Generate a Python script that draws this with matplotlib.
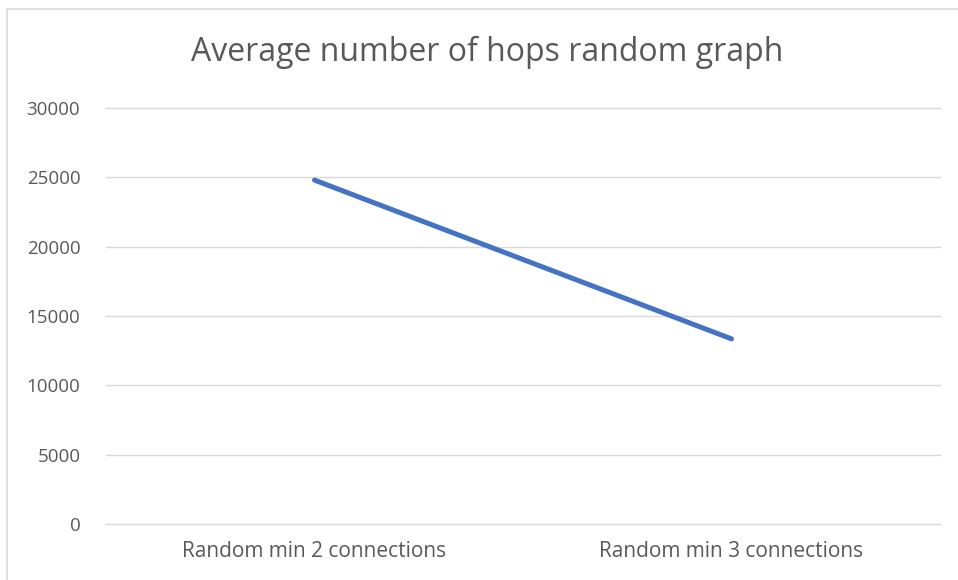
import matplotlib
matplotlib.use("Agg")
import matplotlib.pyplot as plt
from matplotlib.lines import Line2D

categories = ["Random min 2 connections", "Random min 3 connections"]
avg_hops = [24800, 13350]
y_ticks = [0, 5000, 10000, 15000, 20000, 25000, 30000]

plt.rcParams['font.family'] = ['Open Sans', 'DejaVu Sans']
text_color = '#595959'
grid_color = '#d9d9d9'

fig = plt.figure(figsize=(9.58, 5.8), dpi=100)
ax = fig.add_axes([106 / 958, 56 / 580, 834 / 958, 416 / 580])

x = list(range(len(categories)))
ax.plot(x, avg_hops, color='#4472C4', linewidth=3.6, solid_capstyle='round', zorder=3)

ax.set_xlim(-0.5, len(categories) - 0.5)
ax.set_ylim(0, 30000)
ax.set_yticks(y_ticks)
ax.set_yticklabels([str(v) for v in y_ticks])
ax.set_xticks(x)
ax.set_xticklabels(categories, fontsize=15)
ax.tick_params(length=0, colors=text_color)
ax.tick_params(axis='y', pad=18.5, labelsize=13.5)
ax.tick_params(axis='x', pad=12)
ax.grid(axis='y', color=grid_color, linewidth=1, clip_on=False)
for s in ax.spines.values():
    s.set_visible(False)
ax.set_axisbelow(True)

fig.text(487 / 958, 1 - 52 / 580, "Average number of hops random graph",
         ha='center', va='center', fontsize=23, color=text_color)

# chart area border
fig.add_artist(Line2D([7 / 958, 7 / 958], [0, 1 - 9 / 580], color=grid_color, linewidth=1.2))
fig.add_artist(Line2D([7 / 958, 1], [1 - 9 / 580, 1 - 9 / 580], color=grid_color, linewidth=1.2))

fig.savefig("out.png", dpi=100)
